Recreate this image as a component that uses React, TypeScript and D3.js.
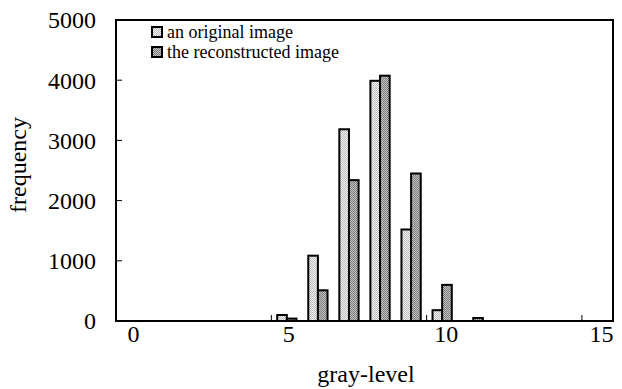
import * as d3 from 'd3';

const levels = d3.range(0, 16);
const original = [0, 0, 0, 0, 0, 100, 1085, 3185, 3990, 1520, 180, 0, 0, 0, 0, 0];
const reconstructed = [0, 0, 0, 0, 0, 40, 510, 2340, 4075, 2450, 600, 50, 0, 0, 0, 0];
const yTicks = [0, 1000, 2000, 3000, 4000, 5000];
const xLabels = [0, 5, 10, 15];
const seriesNames = ['an original image', 'the reconstructed image'];

const W = 622;
const H = 389;
const m = { left: 116, right: 9, top: 20, bottom: 68 };

export default function App() {
  const x = d3.scaleBand<number>().domain(levels).range([m.left, W - m.right]).paddingInner(0.38).paddingOuter(0.19);
  const step = x.step();
  const bw = x.bandwidth() / 2;
  const y = d3.scaleLinear().domain([0, 5000]).range([H - m.bottom, m.top]);
  const font = '"Liberation Serif", "Times New Roman", serif';
  const fills = ['url(#patLight)', 'url(#patDark)'];
  const series = [original, reconstructed];
  const y0 = y(0);

  return (
    <svg width={W} height={H} style={{ position: 'absolute', left: 0, top: 0, background: '#fff' }}>
      <defs>
        <pattern id="patLight" width="2" height="2" patternUnits="userSpaceOnUse">
          <rect width="2" height="2" fill="#f2f2f2" />
          <rect width="1" height="1" fill="#bdbdbd" />
          <rect x="1" y="1" width="1" height="1" fill="#bdbdbd" />
        </pattern>
        <pattern id="patDark" width="2" height="2" patternUnits="userSpaceOnUse">
          <rect width="2" height="2" fill="#c4c4c4" />
          <rect width="1" height="1" fill="#7a7a7a" />
          <rect x="1" y="1" width="1" height="1" fill="#7a7a7a" />
        </pattern>
      </defs>

      {/* bars */}
      {series.map((vals, si) =>
        levels.map((lv, i) => {
          if (vals[i] <= 0) return null;
          const bx = (x(lv) as number) + si * bw;
          const by = y(vals[i]);
          return (
            <rect key={`${si}-${i}`} x={bx} y={by} width={bw} height={Math.max(0, y0 - by)}
              fill={fills[si]} stroke="#000" strokeWidth={2} />
          );
        })
      )}

      {/* frame */}
      <rect x={m.left} y={m.top} width={W - m.right - m.left} height={y0 - m.top}
        fill="none" stroke="#000" strokeWidth={2} />

      {/* y ticks */}
      {yTicks.map(t => (
        <g key={t}>
          {t > 0 && t < 5000 && <line x1={m.left} x2={m.left + 6} y1={y(t)} y2={y(t)} stroke="#000" strokeWidth={1} />}
          <text x={96} y={y(t)} dy="0.35em" textAnchor="end" fontFamily={font} fontSize={24}>{t}</text>
        </g>
      ))}

      {/* x ticks at boundaries every 5 levels */}
      {[5, 10, 15].map(k => (
        <line key={k} x1={m.left + k * step} x2={m.left + k * step} y1={y0} y2={y0 - 6} stroke="#000" strokeWidth={1} />
      ))}
      {xLabels.map(l => (
        <text key={l} x={(x(l) as number) + x.bandwidth() / 2 + (l >= 10 ? 4 : 2)} y={342} textAnchor="middle" fontFamily={font} fontSize={24}>{l}</text>
      ))}

      <text x={366} y={382} textAnchor="middle" fontFamily={font} fontSize={24}>gray-level</text>
      <text transform="translate(26,165) rotate(-90)" textAnchor="middle" fontFamily={font} fontSize={24}>frequency</text>

      {/* legend */}
      {seriesNames.map((n, i) => (
        <g key={n} transform={`translate(152,${27 + i * 20})`}>
          <rect x={0} y={0} width={10} height={10} fill={fills[i]} stroke="#000" strokeWidth={2} />
          <text x={15} y={5} dy="0.35em" fontFamily={font} fontSize={18}>{n}</text>
        </g>
      ))}
    </svg>
  );
}
